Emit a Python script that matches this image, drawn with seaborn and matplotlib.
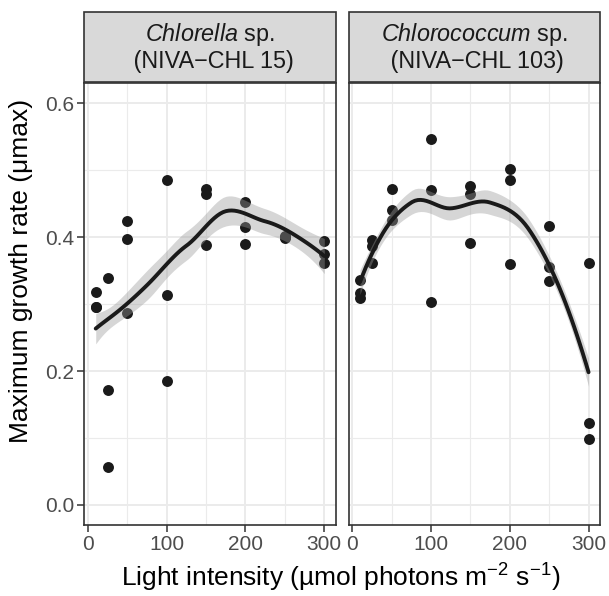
import math
import numpy as np
import pandas as pd
import matplotlib
matplotlib.use("Agg")
import matplotlib.pyplot as plt
import seaborn as sns
from matplotlib.patches import Rectangle

# light levels (3 replicates each)
LIGHT = [10, 10, 10, 25, 25, 25, 50, 50, 50, 100, 100, 100,
         150, 150, 150, 200, 200, 200, 250, 250, 250, 300, 300, 300]

CHLORELLA = [0.318, 0.296, 0.296, 0.339, 0.171, 0.056, 0.424, 0.397, 0.286,
             0.485, 0.313, 0.185, 0.472, 0.465, 0.388, 0.452, 0.415, 0.390,
             0.402, 0.400, 0.398, 0.394, 0.375, 0.361]

CHLOROCOCCUM = [0.336, 0.317, 0.309, 0.396, 0.387, 0.362, 0.472, 0.441, 0.425,
                0.546, 0.470, 0.303, 0.476, 0.465, 0.391, 0.501, 0.485, 0.360,
                0.416, 0.355, 0.335, 0.362, 0.122, 0.098]

STRAINS = ["Chlorella", "Chlorococcum"]
STRIP_LINE1 = [r"$\it{Chlorella}$ sp.", r"$\it{Chlorococcum}$ sp."]
STRIP_LINE2 = [" (NIVA\u2212CHL 15)", " (NIVA\u2212CHL 103)"]

X_TICKS = [0, 100, 200, 300]
Y_TICKS = [0.0, 0.2, 0.4, 0.6]

SPAN = 0.75
CI_LEVEL = 0.4


def norm_ppf(p):
    lo, hi = -10.0, 10.0
    for _ in range(80):
        mid = (lo + hi) / 2
        if 0.5 * (1 + math.erf(mid / math.sqrt(2))) < p:
            lo = mid
        else:
            hi = mid
    return (lo + hi) / 2


def t_quantile(df, p):
    z = norm_ppf(p)
    return (z + (z**3 + z) / (4 * df)
            + (5 * z**5 + 16 * z**3 + 3 * z) / (96 * df**2)
            + (3 * z**7 + 19 * z**5 + 17 * z**3 - 15 * z) / (384 * df**3))


def local_rows(x, x0, span=SPAN):
    # local quadratic, tricube weights: rows giving value and slope at x0
    n = len(x)
    q = int(np.floor(n * span))
    d = np.abs(x - x0)
    h = np.sort(d)[q - 1]
    u = d / h
    w = np.where(u < 1, (1 - u**3) ** 3, 0.0)
    X = np.column_stack([np.ones(n), x - x0, (x - x0) ** 2])
    XtW = X.T * w
    B = np.linalg.solve(XtW @ X, XtW)
    return B[0], B[1]


def kd_vertices(x, fc):
    xs = np.sort(x)
    rng = xs[-1] - xs[0]
    verts = {xs[0] - 0.005 * rng, xs[-1] + 0.005 * rng}

    def split(lo, hi):
        if hi - lo + 1 <= fc:
            return
        m = (lo + hi + 2) // 2 - 1
        v = (xs[m] + xs[m + 1]) / 2
        verts.add(v)
        split(lo, m)
        split(m + 1, hi)

    split(0, len(xs) - 1)
    return np.array(sorted(verts))


def interp_operator(x, pts, span=SPAN):
    # loess operator with cubic Hermite interpolation between kd-tree vertices
    fc = int(np.floor(len(x) * span * 0.2))
    vx = kd_vertices(x, fc)
    vals, slopes = zip(*[local_rows(x, v, span) for v in vx])
    vals, slopes = np.array(vals), np.array(slopes)
    out = []
    for p in pts:
        j = np.clip(np.searchsorted(vx, p) - 1, 0, len(vx) - 2)
        a, b = vx[j], vx[j + 1]
        hh = b - a
        t = (p - a) / hh
        h00 = 2 * t**3 - 3 * t**2 + 1
        h10 = t**3 - 2 * t**2 + t
        h01 = -2 * t**3 + 3 * t**2
        h11 = t**3 - t**2
        out.append(h00 * vals[j] + h10 * hh * slopes[j]
                   + h01 * vals[j + 1] + h11 * hh * slopes[j + 1])
    return np.array(out)


def loess_smooth(x, y, n_out=80):
    x = np.asarray(x, float)
    y = np.asarray(y, float)
    n = len(x)
    L = interp_operator(x, x)
    res = y - L @ y
    M = (np.eye(n) - L).T @ (np.eye(n) - L)
    one_delta = np.trace(M)
    two_delta = np.trace(M @ M)
    s = np.sqrt(np.sum(res**2) / one_delta)
    df = one_delta**2 / two_delta
    grid = np.linspace(x.min(), x.max(), n_out)
    Lg = interp_operator(x, grid)
    fit = Lg @ y
    se = s * np.sqrt(np.sum(Lg**2, axis=1))
    t = t_quantile(df, (1 + CI_LEVEL) / 2)
    return pd.DataFrame({"x": grid, "fit": fit, "lo": fit - t * se, "hi": fit + t * se})


sns.set_theme(style="whitegrid")
plt.rcParams["font.family"] = ["Liberation Sans", "DejaVu Sans"]
plt.rcParams["mathtext.fontset"] = "custom"
plt.rcParams["mathtext.rm"] = "Liberation Sans"
plt.rcParams["mathtext.it"] = "Liberation Sans:italic"
plt.rcParams["mathtext.default"] = "regular"

df = pd.DataFrame({
    "light": LIGHT * 2,
    "mu": CHLORELLA + CHLOROCOCCUM,
    "strain": [STRAINS[0]] * len(LIGHT) + [STRAINS[1]] * len(LIGHT),
})

fig, axes = plt.subplots(1, 2, figsize=(6.09, 5.96), dpi=100, sharey=True)
fig.subplots_adjust(left=0.1384, right=0.9852, bottom=0.119, top=0.8607, wspace=0.051)

grid_col = "#EBEBEB"
border_col = "#333333"

for i, (ax, strain) in enumerate(zip(axes, STRAINS)):
    sub = df[df["strain"] == strain]
    sm = loess_smooth(sub["light"], sub["mu"])

    sns.scatterplot(data=sub, x="light", y="mu", ax=ax, color="#1A1A1A",
                    s=62, linewidth=0, zorder=2, legend=False)
    ax.fill_between(sm["x"], sm["lo"], sm["hi"], color="#999999", alpha=0.4,
                    lw=0, zorder=3)
    sns.lineplot(data=sm, x="x", y="fit", ax=ax, color="#1A1A1A", lw=2.8,
                 zorder=4)

    ax.set_xlim(-4.5, 314.5)
    ax.set_ylim(-0.03, 0.63)
    ax.set_xticks(X_TICKS)
    ax.set_xticks([50, 150, 250], minor=True)
    ax.set_yticks(Y_TICKS)
    ax.set_yticks([0.1, 0.3, 0.5], minor=True)
    ax.set_yticklabels([f"{v:.1f}" for v in Y_TICKS])
    ax.grid(True, which="major", color=grid_col, lw=1.4)
    ax.grid(True, which="minor", color=grid_col, lw=0.8)
    ax.set_axisbelow(True)
    ax.set_facecolor("white")
    for sp in ax.spines.values():
        sp.set_visible(True)
        sp.set_color(border_col)
        sp.set_linewidth(1.2)
    ax.tick_params(axis="both", which="major", labelsize=15, labelcolor="#4D4D4D",
                   color=border_col, length=5, width=1.1, pad=2,
                   bottom=True, left=(i == 0))
    ax.tick_params(axis="both", which="minor", length=0)
    ax.set_xlabel("")
    ax.set_ylabel("")

    # facet strip
    ax.add_patch(Rectangle((0, 1.003), 1, 0.157, transform=ax.transAxes,
                           facecolor="#D9D9D9", edgecolor=border_col, lw=1.2,
                           clip_on=False, zorder=5))
    ax.text(0.5, 1.0815, STRIP_LINE1[i] + "\n" + STRIP_LINE2[i],
            transform=ax.transAxes, ha="center", va="center",
            multialignment="center", fontsize=16.8, color="#1A1A1A",
            linespacing=1.15, zorder=6)

# y title centred over panel + strip, as in a faceted ggplot
fig.text(0.035, 0.545, "Maximum growth rate (\u03bcmax)", rotation=90,
         ha="center", va="center", fontsize=19, color="black")
fig.text(0.56, 0.03, "Light intensity (\u00b5mol photons m$^{-2}$ s$^{-1}$)",
         ha="center", va="center", fontsize=19, color="black")

fig.savefig("out.png", dpi=100)
